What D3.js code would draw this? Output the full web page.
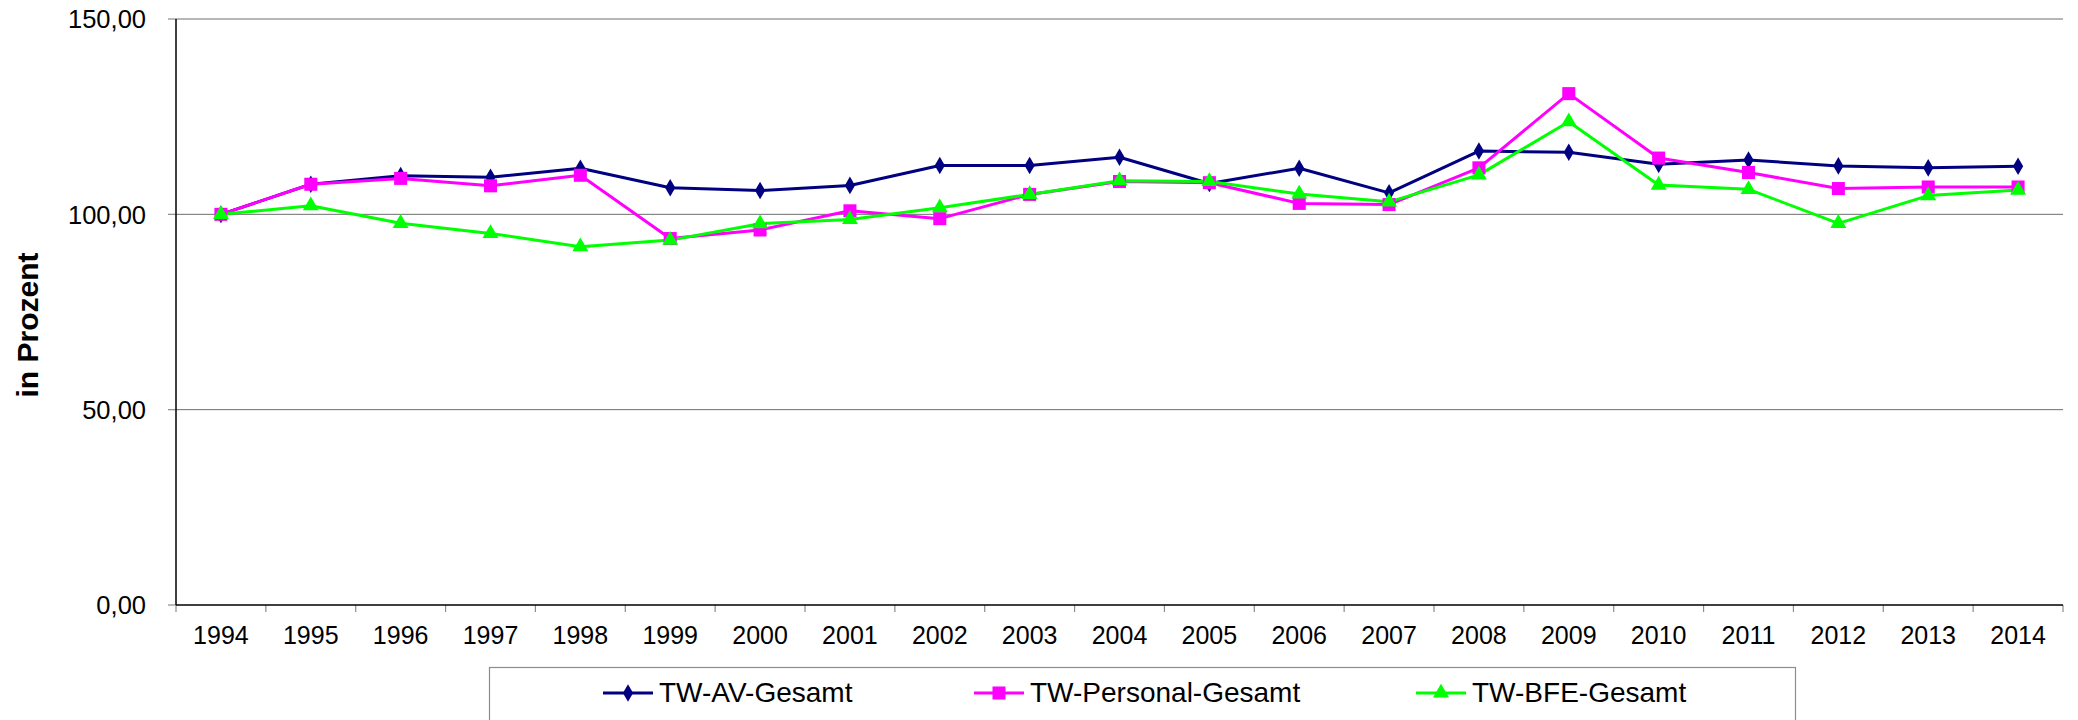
<!DOCTYPE html>
<html>
<head>
<meta charset="utf-8">
<script src="https://cdn.jsdelivr.net/npm/d3@7"></script>
<style>
  html, body { margin: 0; padding: 0; background: #fff; }
  svg { display: block; font-family: "Liberation Sans", Arial, sans-serif; }
</style>
</head>
<body>
<script>
'use strict';

// years on the x axis
const years = ['1994', '1995', '1996', '1997', '1998', '1999', '2000', '2001', '2002', '2003', '2004',
  '2005', '2006', '2007', '2008', '2009', '2010', '2011', '2012', '2013', '2014'];

// series values
const avGesamt = [100.0, 107.7, 109.9, 109.5, 111.8, 106.8, 106.1, 107.4, 112.5, 112.5, 114.6,
  107.9, 111.8, 105.5, 116.2, 115.9, 112.8, 113.9, 112.4, 111.9, 112.3];
const personalGesamt = [100.0, 107.7, 109.2, 107.3, 110.0, 93.8, 96.0, 100.9, 98.9, 105.1, 108.4,
  108.1, 102.8, 102.5, 111.9, 130.9, 114.4, 110.7, 106.6, 107.0, 107.0];
const bfeGesamt = [100.0, 102.2, 97.7, 95.1, 91.7, 93.4, 97.6, 98.7, 101.7, 105.1, 108.6,
  108.4, 105.2, 103.2, 110.1, 123.7, 107.5, 106.4, 97.7, 104.8, 106.2];

const seriesNames = ['TW-AV-Gesamt', 'TW-Personal-Gesamt', 'TW-BFE-Gesamt'];
const yTicks = [0, 50, 100, 150];

const width = 2078, height = 720;
const plot = { left: 176, right: 2063, top: 19, bottom: 605 };

const series = [
  { name: seriesNames[0], values: avGesamt, color: '#000080', symbol: d3.symbolDiamond, size: 90 },
  { name: seriesNames[1], values: personalGesamt, color: '#ff00ff', symbol: d3.symbolSquare, size: 170 },
  { name: seriesNames[2], values: bfeGesamt, color: '#00ff00', symbol: d3.symbolTriangle, size: 110 }
];

const svg = d3.select('body').append('svg')
  .attr('width', width)
  .attr('height', height);

const x = d3.scaleBand()
  .domain(years)
  .range([plot.left, plot.right])
  .padding(0);

const y = d3.scaleLinear()
  .domain([0, 150])
  .range([plot.bottom, plot.top]);

const fmt = v => d3.format('.2f')(v).replace('.', ',');

// horizontal gridlines
svg.append('g')
  .selectAll('line')
  .data(yTicks.filter(t => t > 0))
  .enter()
  .append('line')
    .attr('x1', plot.left)
    .attr('x2', plot.right)
    .attr('y1', d => y(d))
    .attr('y2', d => y(d))
    .attr('stroke', '#6e6e6e')
    .attr('stroke-width', 1);

// y axis: tick marks + labels
let yAxis = svg.append('g');
yAxis.selectAll('line')
  .data(yTicks)
  .enter()
  .append('line')
    .attr('x1', plot.left - 8)
    .attr('x2', plot.left)
    .attr('y1', d => y(d))
    .attr('y2', d => y(d))
    .attr('stroke', '#8c8c8c')
    .attr('stroke-width', 1.2);

yAxis.selectAll('text')
  .data(yTicks)
  .enter()
  .append('text')
    .attr('x', 146)
    .attr('y', d => y(d))
    .attr('dy', '0.36em')
    .attr('text-anchor', 'end')
    .style('font-size', '25.5px')
    .attr('fill', '#000')
    .text(fmt);

// x axis ticks at category boundaries
let boundaries = years.map(d => x(d)).concat([x(years[years.length - 1]) + x.bandwidth()]);
svg.append('g')
  .selectAll('line')
  .data(boundaries)
  .enter()
  .append('line')
    .attr('x1', d => d)
    .attr('x2', d => d)
    .attr('y1', plot.bottom)
    .attr('y2', plot.bottom + 7)
    .attr('stroke', '#8c8c8c')
    .attr('stroke-width', 1.2);

svg.append('g')
  .selectAll('text')
  .data(years)
  .enter()
  .append('text')
    .attr('x', d => x(d) + x.bandwidth() / 2)
    .attr('y', 644)
    .attr('text-anchor', 'middle')
    .style('font-size', '25px')
    .attr('fill', '#000')
    .text(d => d);

// axis lines
svg.append('line')
  .attr('x1', plot.left).attr('x2', plot.left)
  .attr('y1', plot.top).attr('y2', plot.bottom)
  .attr('stroke', '#000').attr('stroke-width', 1.5);
svg.append('line')
  .attr('x1', plot.left).attr('x2', plot.right)
  .attr('y1', plot.bottom).attr('y2', plot.bottom)
  .attr('stroke', '#000').attr('stroke-width', 1.5);

// y axis title
svg.append('text')
  .attr('transform', 'translate(38, 325)rotate(-90)')
  .attr('text-anchor', 'middle')
  .style('font-size', '30px')
  .style('font-weight', 'bold')
  .text('in Prozent');

// lines and markers
let line = d3.line()
  .x((d, i) => x(years[i]) + x.bandwidth() / 2)
  .y(d => y(d));

series.forEach(s => {
  svg.append('path')
    .datum(s.values)
    .attr('fill', 'none')
    .attr('stroke', s.color)
    .attr('stroke-width', 3)
    .attr('stroke-linejoin', 'round')
    .attr('d', line);
});

series.forEach(s => {
  svg.append('g')
    .selectAll('path')
    .data(s.values)
    .enter()
    .append('path')
      .attr('transform', (d, i) => 'translate(' + (x(years[i]) + x.bandwidth() / 2) + ',' + y(d) + ')')
      .attr('d', d3.symbol().type(s.symbol).size(s.size))
      .attr('fill', s.color);
});

// legend
svg.append('rect')
  .attr('x', 489.5)
  .attr('y', 667.5)
  .attr('width', 1306)
  .attr('height', 80)
  .attr('fill', 'none')
  .attr('stroke', '#8c8c8c')
  .attr('stroke-width', 1.2);

const legendX = [603, 974, 1416];
series.forEach((s, i) => {
  let g = svg.append('g').attr('transform', 'translate(' + legendX[i] + ', 693)');
  g.append('line')
    .attr('x1', 0).attr('x2', 50)
    .attr('y1', 0).attr('y2', 0)
    .attr('stroke', s.color)
    .attr('stroke-width', 3);
  g.append('path')
    .attr('transform', 'translate(25, 0)')
    .attr('d', d3.symbol().type(s.symbol).size(s.size))
    .attr('fill', s.color);
  g.append('text')
    .attr('x', 56)
    .attr('y', 9)
    .style('font-size', '28px')
    .attr('fill', '#000')
    .text(s.name);
});
</script>
</body>
</html>
